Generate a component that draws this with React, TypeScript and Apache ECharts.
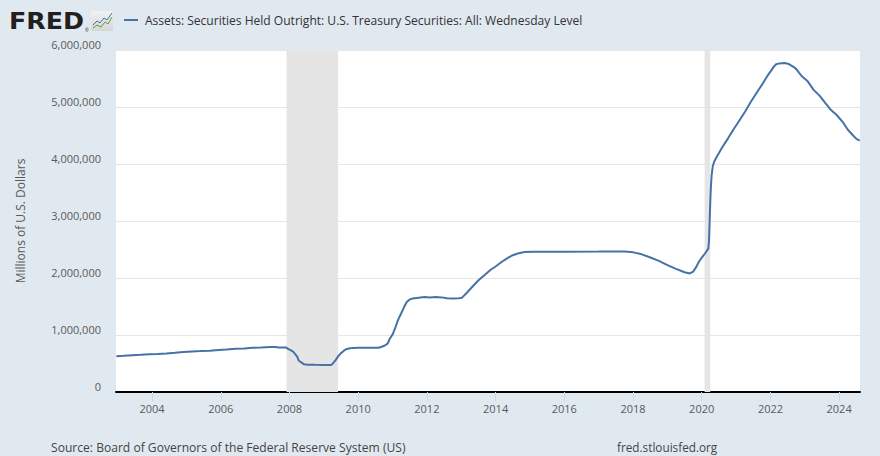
import React, { useEffect, useRef } from "react";
import * as echarts from "echarts";

const dates: string[] = [
  "2002-12-18", "2003-03-05", "2003-06-04", "2003-09-03", "2003-12-03",
  "2004-03-03", "2004-06-02", "2004-09-01", "2004-12-01", "2005-03-02",
  "2005-06-01", "2005-09-07", "2005-12-07", "2006-03-01", "2006-06-07",
  "2006-09-06", "2006-12-06", "2007-03-07", "2007-06-06", "2007-08-08",
  "2007-09-05", "2007-11-28", "2007-12-19", "2008-01-09", "2008-02-06",
  "2008-03-05", "2008-03-26", "2008-04-09", "2008-05-07", "2008-06-04",
  "2008-07-09", "2008-10-01", "2009-01-07", "2009-03-18", "2009-04-01",
  "2009-05-06", "2009-06-03", "2009-07-01", "2009-08-05", "2009-09-02",
  "2009-10-07", "2009-11-04", "2010-01-06", "2010-06-02", "2010-08-04",
  "2010-09-01", "2010-10-06", "2010-11-10", "2010-12-01", "2011-01-05",
  "2011-02-02", "2011-03-02", "2011-04-06", "2011-05-04", "2011-06-01",
  "2011-06-29", "2011-08-03", "2011-10-05", "2011-12-07", "2012-02-01",
  "2012-04-04", "2012-06-06", "2012-08-01", "2012-10-03", "2012-12-05",
  "2013-01-09", "2013-03-06", "2013-05-01", "2013-07-03", "2013-09-04",
  "2013-11-06", "2014-01-08", "2014-03-05", "2014-05-07", "2014-07-02",
  "2014-09-03", "2014-11-05", "2015-02-04", "2016-01-06", "2017-01-04",
  "2017-10-04", "2018-01-03", "2018-04-04", "2018-07-04", "2018-10-03",
  "2019-01-02", "2019-04-03", "2019-07-03", "2019-08-28", "2019-10-02",
  "2019-11-06", "2019-12-04", "2020-01-08", "2020-02-05", "2020-03-11",
  "2020-03-18", "2020-03-25", "2020-04-01", "2020-04-08", "2020-04-15",
  "2020-04-22", "2020-04-29", "2020-05-13", "2020-06-03", "2020-07-01",
  "2020-08-05", "2020-10-07", "2020-12-02", "2021-02-03", "2021-04-07",
  "2021-06-02", "2021-08-04", "2021-10-06", "2021-12-01", "2022-01-05",
  "2022-02-02", "2022-03-02", "2022-04-06", "2022-06-01", "2022-07-06",
  "2022-08-03", "2022-09-07", "2022-10-05", "2022-11-02", "2022-12-07",
  "2023-02-01", "2023-04-05", "2023-06-07", "2023-08-02", "2023-10-04",
  "2023-12-06", "2024-02-07", "2024-04-03", "2024-05-29", "2024-07-03",
  "2024-08-07",
];

const treasuryHoldings: number[] = [
  629000, 636000, 645000, 652000, 662000,
  667000, 676000, 688000, 702000, 712000,
  718000, 725000, 737000, 745000, 757000,
  764000, 778000, 779000, 790000, 791000,
  780000, 779000, 754000, 740000, 713000,
  660000, 613000, 548000, 520000, 485000,
  479000, 476000, 475000, 474000, 490000,
  560000, 630000, 680000, 730000, 755000,
  767000, 774000, 777000, 777000, 777000,
  790000, 812000, 850000, 930000, 1020000,
  1140000, 1270000, 1390000, 1490000, 1580000,
  1620000, 1640000, 1655000, 1665000, 1660000,
  1668000, 1660000, 1645000, 1640000, 1645000,
  1655000, 1750000, 1850000, 1960000, 2050000,
  2140000, 2210000, 2280000, 2350000, 2400000,
  2435000, 2455000, 2460000, 2461000, 2463000,
  2465000, 2450000, 2415000, 2360000, 2300000,
  2225000, 2160000, 2100000, 2080000, 2110000,
  2200000, 2290000, 2370000, 2430000, 2516000,
  2630000, 2970000, 3330000, 3610000, 3790000,
  3890000, 3970000, 4040000, 4110000, 4190000,
  4290000, 4450000, 4600000, 4760000, 4920000,
  5080000, 5240000, 5400000, 5550000, 5630000,
  5700000, 5750000, 5765000, 5771000, 5760000,
  5735000, 5700000, 5660000, 5600000, 5530000,
  5450000, 5300000, 5200000, 5080000, 4950000,
  4860000, 4740000, 4600000, 4500000, 4440000,
  4410000,
];

const recessions: [string, string][] = [
  ["2007-12-01", "2009-06-01"],
  ["2020-02-01", "2020-04-01"],
];

const xTickYears: number[] = [2004, 2006, 2008, 2010, 2012, 2014, 2016, 2018, 2020, 2022, 2024];

const seriesTitle = "Assets: Securities Held Outright: U.S. Treasury Securities: All: Wednesday Level";
const yAxisTitle = "Millions of U.S. Dollars";
const sourceText = "Source: Board of Governors of the Federal Reserve System (US)";
const siteText = "fred.stlouisfed.org";

const fmt = (v: number) => v.toLocaleString("en-US");
const ts = (d: string) => {
  const [y, m, day] = d.split("-").map(Number);
  return Date.UTC(y, m - 1, day);
};

export default function App() {
  const ref = useRef<HTMLDivElement>(null);
  useEffect(() => {
    if (!ref.current) return;
    const chart = echarts.init(ref.current, null, { renderer: "svg" });
    const tickTimes = xTickYears.map((y) => Date.UTC(y, 0, 1));
    chart.setOption({
      animation: false,
      backgroundColor: "#e1e9f0",
      grid: {
        left: 116,
        right: 20,
        top: 50,
        bottom: 64,
        show: true,
        backgroundColor: "#ffffff",
        borderWidth: 0,
      },
      xAxis: {
        type: "value",
        min: Date.UTC(2002, 11, 14),
        max: Date.UTC(2024, 7, 10),
        axisLine: { show: true, onZero: false, lineStyle: { color: "#000000", width: 2 } },
        axisTick: {
          show: true,
          customValues: tickTimes,
          length: 9,
          lineStyle: { color: "#ccd6eb", width: 1 },
        },
        axisLabel: {
          customValues: tickTimes,
          formatter: (v: number) => String(new Date(v).getUTCFullYear()),
          color: "#595959",
          fontFamily: "Open Sans",
          fontSize: 11,
          margin: 11,
        },
        splitLine: { show: false },
      },
      yAxis: {
        type: "value",
        min: 0,
        max: 6000000,
        interval: 1000000,
        axisLine: { show: false },
        axisTick: { show: false },
        axisLabel: {
          formatter: (v: number) => fmt(v),
          color: "#595959",
          fontFamily: "Open Sans",
          fontSize: 11,
          margin: 15,
          verticalAlign: "bottom",
          lineHeight: 12,
        },
        splitLine: { show: true, lineStyle: { color: "#e6e6e6", width: 1 } },
      },
      series: [
        {
          type: "line",
          name: seriesTitle,
          data: dates.map((d, i) => [ts(d), treasuryHoldings[i]]),
          showSymbol: false,
          symbol: "none",
          lineStyle: { color: "#4572a7", width: 2 },
          z: 5,
          markArea: {
            silent: true,
            itemStyle: { color: "#e5e5e5" },
            data: recessions.map(([a, b]) => [{ xAxis: ts(a) }, { xAxis: ts(b) }]),
          },
        },
      ],
      graphic: [
        {
          type: "text",
          x: 9,
          y: 21,
          scaleX: 1.1,
          style: {
            text: "FRED",
            fontFamily: "DejaVu Sans",
            fontWeight: "bold",
            fontSize: 23,
            fill: "#231f20",
            verticalAlign: "middle",
            align: "left",
          },
        },
        {
          type: "text",
          x: 85,
          y: 30,
          style: { text: "®", fontSize: 5, fill: "#231f20", align: "left", verticalAlign: "middle" },
        },
        {
          type: "rect",
          shape: { x: 91, y: 11, width: 22, height: 20, r: 2 },
          style: {
            fill: new echarts.graphic.LinearGradient(0, 0, 0, 1, [
              { offset: 0, color: "#f2f2f2" },
              { offset: 1, color: "#d6d6d6" },
            ]),
          },
        },
        {
          type: "polyline",
          shape: { points: [[93, 25], [97, 21], [100, 23], [104, 18], [107, 20], [112, 13]] },
          style: { stroke: "#3b6fb0", lineWidth: 1, fill: "none" },
        },
        {
          type: "polyline",
          shape: { points: [[93, 28], [97, 25], [101, 27], [105, 22], [108, 24], [112, 17]] },
          style: { stroke: "#5a9a3c", lineWidth: 1, fill: "none" },
        },
        {
          type: "line",
          shape: { x1: 124, y1: 20, x2: 138, y2: 20 },
          style: { stroke: "#4572a7", lineWidth: 2 },
        },
        {
          type: "text",
          x: 145,
          y: 20,
          scaleX: 0.965,
          style: {
            text: seriesTitle,
            fontFamily: "Open Sans",
            fontSize: 12.5,
            fill: "#333333",
            align: "left",
            verticalAlign: "middle",
          },
        },
        {
          type: "text",
          x: 20,
          y: 221,
          rotation: Math.PI / 2,
          style: {
            text: yAxisTitle,
            fontFamily: "Open Sans",
            fontSize: 12,
            fill: "#595959",
            align: "center",
            verticalAlign: "middle",
          },
        },
        {
          type: "text",
          x: 51,
          y: 447,
          scaleX: 0.93,
          style: {
            text: sourceText,
            fontFamily: "Open Sans",
            fontSize: 13,
            fill: "#444444",
            align: "left",
            verticalAlign: "middle",
          },
        },
        {
          type: "text",
          x: 617,
          y: 447,
          scaleX: 0.905,
          style: {
            text: siteText,
            fontFamily: "Open Sans",
            fontSize: 13,
            fill: "#444444",
            align: "left",
            verticalAlign: "middle",
          },
        },
      ],
    });
    return () => chart.dispose();
  }, []);
  return <div ref={ref} style={{ width: 880, height: 456, position: "absolute", left: 0, top: 0 }} />;
}
